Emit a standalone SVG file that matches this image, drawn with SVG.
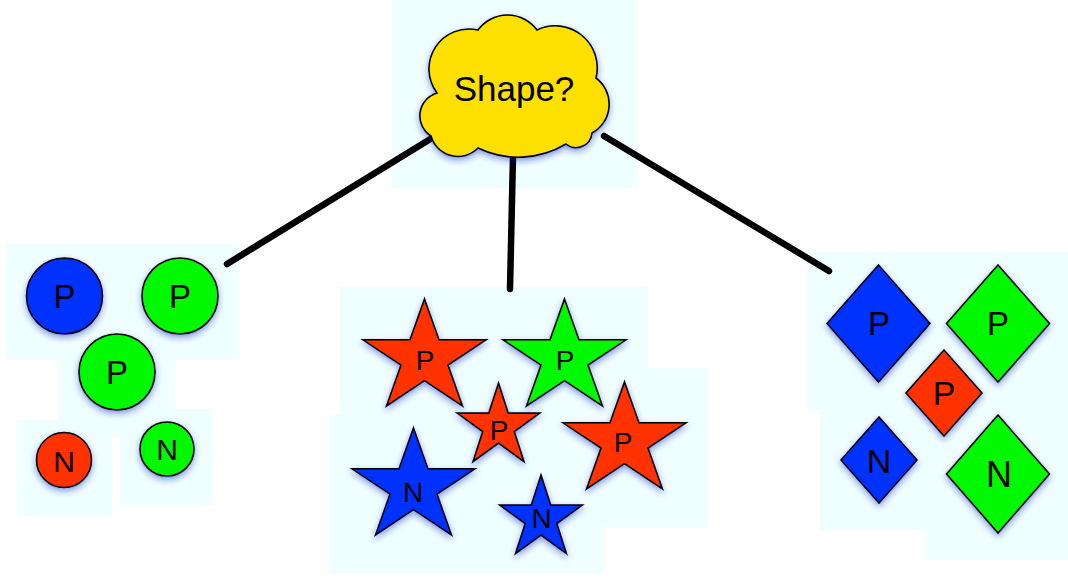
<svg xmlns="http://www.w3.org/2000/svg" width="1068" height="588" viewBox="0 0 1068 588">
<defs>
<filter id="sh" x="-30%" y="-30%" width="160%" height="170%">
<feDropShadow dx="0" dy="3" stdDeviation="3" flood-color="#1020c0" flood-opacity="0.45"/>
</filter>
<polygon id="bigstar" points="0,-59.1 14.5,-18.3 61.5,-18.3 23.5,7 38,47.8 0,22.6 -38,47.8 -23.5,7 -61.5,-18.3 -14.5,-18.3"/>
<polygon id="smallstar" points="0,-43.5 9.7,-13.4 41.3,-13.4 15.8,5.1 25.5,35.2 0,16.6 -25.5,35.2 -15.8,5.1 -41.3,-13.4 -9.7,-13.4"/>
</defs>
<style>
.bg{fill:#effeff;stroke:none}
.shape{stroke:#000;stroke-width:1.6;stroke-linejoin:miter;filter:url(#sh)}
.blue{fill:#0433ff}
.green{fill:#00f900}
.red{fill:#ff3300}
.yellow{fill:#fde000}
text{font-family:"Liberation Sans",Arial,Helvetica,sans-serif;fill:#000;text-anchor:middle}
.conn{stroke:#000;stroke-width:6.5;stroke-linecap:round;fill:none}
</style>
<rect width="1068" height="588" fill="#fff"/>
<g id="backgrounds">
<rect class="bg" x="392" y="0" width="246" height="188"/>
<rect class="bg" x="6" y="244" width="233" height="116"/>
<rect class="bg" x="58" y="360" width="117" height="77"/>
<rect class="bg" x="17" y="420" width="95" height="96"/>
<rect class="bg" x="120" y="409" width="93" height="96"/>
<rect class="bg" x="340" y="287" width="308" height="128"/>
<rect class="bg" x="329" y="415" width="276" height="158"/>
<rect class="bg" x="560" y="368" width="148" height="159"/>
<rect class="bg" x="807" y="252" width="261" height="157"/>
<rect class="bg" x="820" y="409" width="107" height="121"/>
<rect class="bg" x="927" y="409" width="141" height="151"/>
</g>
<g id="connectors">
<line class="conn" x1="432" y1="138" x2="227" y2="264"/>
<line class="conn" x1="513" y1="156" x2="510" y2="289"/>
<line class="conn" x1="604" y1="136" x2="829" y2="271"/>
</g>
<g id="cloud">
<path class="shape yellow" d="M437,93 A40,40 0 0 1 478,30 A36.5,36.5 0 0 1 537,30 A42,42 0 0 1 596,78 A32.7,32.7 0 0 1 592,133 A16,16 0 0 1 566,144 A93,93 0 0 1 478,148 A28,28 0 0 1 431,136 A23.8,23.8 0 0 1 437,93 Z"/>
<text x="514" y="101" font-size="35">Shape?</text>
</g>
<g id="circle-blue-p"><circle class="shape blue" cx="64.5" cy="296" r="38"/><text x="64.5" y="308" font-size="33">P</text></g>
<g id="circle-green-p1"><circle class="shape green" cx="180" cy="296" r="38"/><text x="180" y="308" font-size="33">P</text></g>
<g id="circle-green-p2"><circle class="shape green" cx="117" cy="372" r="38"/><text x="117" y="384" font-size="33">P</text></g>
<g id="circle-red-n"><circle class="shape red" cx="64" cy="460" r="27.5"/><text x="64" y="471.5" font-size="30">N</text></g>
<g id="circle-green-n"><circle class="shape green" cx="167" cy="449" r="27"/><text x="167" y="460" font-size="30">N</text></g>
<g id="star-red-p1"><use href="#bigstar" class="shape red" transform="translate(424.5,358.1)"/><text x="425" y="370" font-size="28">P</text></g>
<g id="star-green-p"><use href="#bigstar" class="shape green" transform="translate(564.5,358.1)"/><text x="565" y="370" font-size="28">P</text></g>
<g id="star-red-p2"><use href="#smallstar" class="shape red" transform="translate(498.5,426.5)"/><text x="499" y="440" font-size="28">P</text></g>
<g id="star-red-p3"><use href="#bigstar" class="shape red" transform="translate(624.5,441.1)"/><text x="623" y="452" font-size="28">P</text></g>
<g id="star-blue-n1"><use href="#bigstar" class="shape blue" transform="translate(413.5,487.1)"/><text x="413" y="502" font-size="28">N</text></g>
<g id="star-blue-n2"><use href="#smallstar" class="shape blue" transform="translate(541,518.5)"/><text x="541.5" y="528" font-size="28">N</text></g>
<g id="diamond-blue-p"><polygon class="shape blue" points="878.5,265 930,323.5 878.5,382 827,323.5"/><text x="879" y="335" font-size="33">P</text></g>
<g id="diamond-green-p"><polygon class="shape green" points="998,265 1049.5,323.5 998,382 946.5,323.5"/><text x="998" y="335" font-size="33">P</text></g>
<g id="diamond-red-p"><polygon class="shape red" points="944,350 982,393 944,436 906,393"/><text x="944" y="405" font-size="34">P</text></g>
<g id="diamond-blue-n"><polygon class="shape blue" points="879,417 917,460 879,503 841,460"/><text x="879" y="472.5" font-size="34">N</text></g>
<g id="diamond-green-n"><polygon class="shape green" points="998,415 1049.5,474 998,533 946.5,474"/><text x="999" y="486.5" font-size="36">N</text></g>
</svg>
